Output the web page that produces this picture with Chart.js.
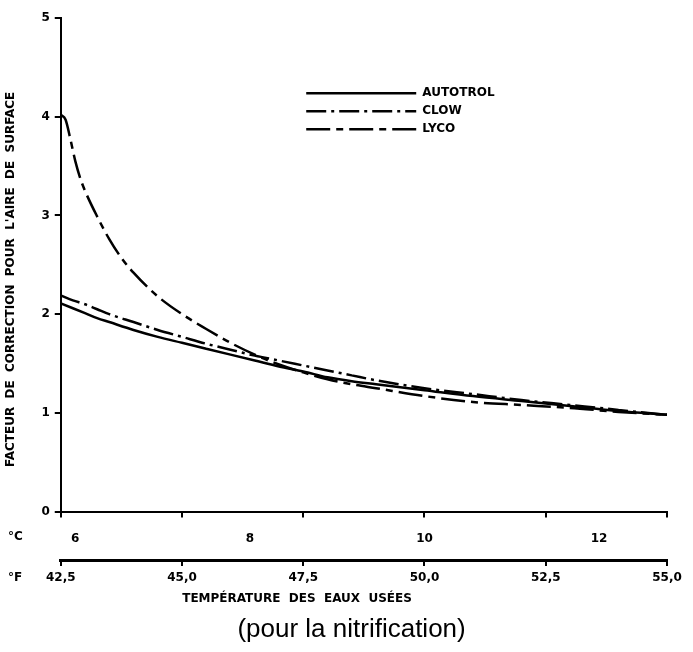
<!DOCTYPE html>
<html>
<head>
<meta charset="utf-8">
<script src="https://cdn.jsdelivr.net/npm/chart.js@4.4.1/dist/chart.umd.min.js"></script>
<style>
  html, body { margin: 0; padding: 0; background: #fff; }
  #wrap { width: 693px; height: 652px; }
</style>
</head>
<body>
<div id="wrap"><canvas id="chart"></canvas></div>
<script>
// temperatures (°F) and correction factors
const tempF = [42.5, 42.75, 43, 43.25, 43.5, 44, 44.5, 45, 45.5, 46, 46.5, 47, 47.5, 48, 48.5, 49, 50, 51, 52, 53, 54, 55];
const autotrol = [2.11, 2.06, 2.01, 1.96, 1.92, 1.84, 1.77, 1.71, 1.65, 1.59, 1.53, 1.47, 1.42, 1.36, 1.32, 1.29, 1.23, 1.17, 1.12, 1.07, 1.02, 0.98];
const clow = [2.19, 2.14, 2.10, 2.05, 2.00, 1.92, 1.84, 1.77, 1.70, 1.64, 1.58, 1.53, 1.48, 1.43, 1.38, 1.33, 1.25, 1.19, 1.13, 1.08, 1.03, 0.98];
const lycoTempF = [42.5, 42.6, 42.7, 42.8, 42.9, 43, 43.25, 43.5, 43.75, 44, 44.5, 45, 45.5, 46, 46.5, 47, 47.5, 48, 48.5, 49, 50, 51, 52, 53, 54, 55];
const lyco = [4.02, 3.97, 3.77, 3.55, 3.38, 3.25, 2.99, 2.76, 2.57, 2.42, 2.18, 2.00, 1.85, 1.71, 1.59, 1.49, 1.41, 1.34, 1.29, 1.25, 1.17, 1.11, 1.08, 1.05, 1.01, 0.98];

// axis ranges
const fMin = 42.5, fMax = 55, fStep = 2.5;
const cStep = 2;
const toC = f => (f - 32) / 1.8;

const seriesNames = ['AUTOTROL', 'CLOW', 'LYCO'];
const seriesDash = [[], [20, 5, 3, 5], [24, 6, 7, 6]];

const pts = (xs, ys) => xs.map((x, i) => ({ x: x, y: ys[i] }));

Chart.defaults.font.family = '"DejaVu Sans", sans-serif';
Chart.defaults.font.weight = 'bold';
Chart.defaults.font.size = 12;
Chart.defaults.color = '#000';

// put the legend inside the plot, upper middle
const legendSpot = {
  id: 'legendSpot',
  afterLayout(chart) {
    const lg = chart.legend, a = chart.chartArea;
    const w = lg.right - lg.left, h = lg.bottom - lg.top;
    lg.left = a.left + (a.right - a.left) * 0.395;
    lg.top = a.top + (a.bottom - a.top) * 0.128;
    lg.right = lg.left + w;
    lg.bottom = lg.top + h;
  }
};

// °C / °F unit marks at the left of the two temperature scales
const unitLabels = {
  id: 'unitLabels',
  afterDraw(chart) {
    const ctx = chart.ctx;
    const xc = chart.scales.xc, xf = chart.scales.x;
    ctx.save();
    ctx.font = 'bold 12px "DejaVu Sans"';
    ctx.fillStyle = '#000';
    ctx.textBaseline = 'middle';
    ctx.textAlign = 'left';
    ctx.fillText('°C', 8, xc.top + 14 + 5);
    ctx.fillText('°F', 8, xf.top + 6 + 5 + 7);
    ctx.restore();
  }
};

const lineBase = {
  borderColor: '#000',
  backgroundColor: '#000',
  borderWidth: 2.5,
  pointRadius: 0,
  fill: false,
  cubicInterpolationMode: 'monotone'
};

new Chart(document.getElementById('chart'), {
  type: 'line',
  data: {
    datasets: [
      Object.assign({ label: seriesNames[0], data: pts(tempF, autotrol), borderDash: seriesDash[0] }, lineBase),
      Object.assign({ label: seriesNames[1], data: pts(tempF, clow), borderDash: seriesDash[1] }, lineBase),
      Object.assign({ label: seriesNames[2], data: pts(lycoTempF, lyco), borderDash: seriesDash[2] }, lineBase)
    ]
  },
  options: {
    responsive: true,
    maintainAspectRatio: false,
    animation: false,
    layout: { padding: { left: 0, right: 26, top: 18, bottom: 0 } },
    scales: {
      x: {
        type: 'linear',
        position: 'bottom',
        weight: 2,
        min: fMin, max: fMax,
        ticks: {
          stepSize: fStep,
          padding: 5,
          maxRotation: 0,
          callback: v => v.toFixed(1).replace('.', ',')
        },
        grid: { drawOnChartArea: false, tickLength: 6, color: '#000', lineWidth: 2 },
        border: { display: true, color: '#000', width: 3 },
        title: {
          display: true,
          text: 'TEMPÉRATURE  DES  EAUX  USÉES' + ' '.repeat(32),
          font: { size: 12, weight: 'bold' },
          padding: { top: 1, bottom: 4 }
        }
      },
      xt: {
        type: 'linear',
        position: 'bottom',
        weight: 0,
        min: fMin, max: fMax,
        ticks: { display: false, stepSize: fStep },
        grid: { drawOnChartArea: false, tickLength: 6, color: '#000', lineWidth: 2 },
        border: { display: true, color: '#000', width: 2 }
      },
      xc: {
        type: 'linear',
        position: 'bottom',
        weight: 1,
        min: toC(fMin), max: toC(fMax),
        ticks: { stepSize: cStep, includeBounds: false, padding: 14, maxRotation: 0 },
        grid: { display: false, drawTicks: false },
        border: { display: false }
      },
      y: {
        min: 0, max: 5,
        ticks: { stepSize: 1, padding: 5 },
        grid: { drawOnChartArea: false, tickLength: 6, color: '#000', lineWidth: 2 },
        border: { display: true, color: '#000', width: 2 },
        title: {
          display: true,
          text: "FACTEUR  DE  CORRECTION  POUR  L'AIRE  DE  SURFACE" + ' '.repeat(7),
          font: { size: 12, weight: 'bold' },
          padding: { top: 4, bottom: 18 }
        }
      }
    },
    plugins: {
      legend: {
        position: 'chartArea',
        align: 'start',
        labels: {
          usePointStyle: true,
          pointStyle: 'line',
          pointStyleWidth: 110,
          padding: 6,
          color: '#000',
          font: { size: 12, weight: 'bold' },
          generateLabels(chart) {
            const items = Chart.defaults.plugins.legend.labels.generateLabels(chart);
            items.forEach((it, i) => {
              it.lineDash = seriesDash[i];
              it.lineWidth = 2.5;
              it.strokeStyle = '#000';
              it.pointStyle = 'line';
            });
            return items;
          }
        }
      },
      title: {
        display: true,
        position: 'bottom',
        text: '     (pour la nitrification)',
        color: '#000',
        font: { family: '"Liberation Sans", Arial, sans-serif', size: 26, weight: 'normal' },
        padding: { top: 4, bottom: 7 }
      },
      tooltip: { enabled: false }
    }
  },
  plugins: [legendSpot, unitLabels]
});
</script>
</body>
</html>
